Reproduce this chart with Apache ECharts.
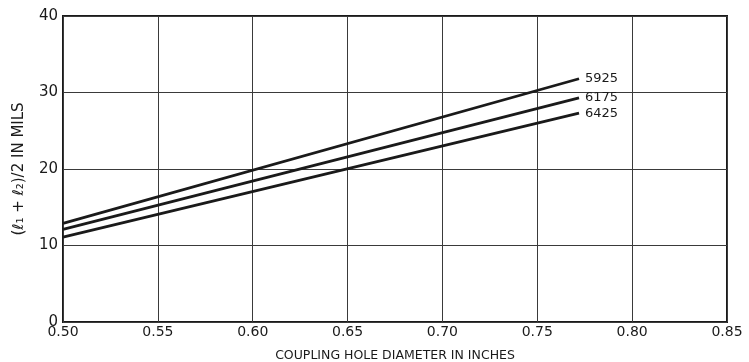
<!DOCTYPE html>
<html>
<head>
<meta charset="utf-8">
<script src="https://cdn.jsdelivr.net/npm/echarts@6/dist/echarts.min.js"></script>
<style>
  html, body { margin: 0; padding: 0; background: #fff; }
  #chart { width: 749px; height: 362px; }
</style>
</head>
<body>
<div id="chart"></div>
<script>
    "use strict";

    /*----data----*/
    var seriesNames = ['5925', '6175', '6425'];
    var diameters = [0.50, 0.772];
    var values5925 = [12.9, 31.8];
    var values6175 = [12.1, 29.3];
    var values6425 = [11.1, 27.3];
    var xTicks = [0.50, 0.55, 0.60, 0.65, 0.70, 0.75, 0.80, 0.85];
    var yTicks = [0, 10, 20, 30, 40];

    var allValues = [values5925, values6175, values6425];
    var ink = '#1a1a1a';
    var font = 'DejaVu Sans';

    var chartSeries = seriesNames.map(function (name, i) {
        return {
            name: name,
            type: 'line',
            symbol: 'none',
            silent: true,
            data: diameters.map(function (d, j) { return [d, allValues[i][j]]; }),
            lineStyle: { color: ink, width: 2.8 },
            endLabel: {
                show: true,
                formatter: '{a}',
                color: ink,
                fontFamily: font,
                fontSize: 13,
                distance: 6
            }
        };
    });

    var option = {
        animation: false,
        grid: {
            top: 16,
            right: 22,
            bottom: 40,
            left: 63,
            outerBoundsMode: 'none',
            containLabel: false,
            show: true,
            borderColor: ink,
            borderWidth: 2
        },
        xAxis: {
            type: 'value',
            min: 0.50,
            max: 0.85,
            interval: 0.05,
            name: 'COUPLING HOLE DIAMETER IN INCHES',
            nameLocation: 'middle',
            nameGap: 27,
            nameTextStyle: { color: ink, fontFamily: font, fontSize: 12.5 },
            axisLine: { show: false },
            axisTick: { show: false },
            axisLabel: {
                color: ink,
                fontFamily: font,
                fontSize: 14,
                margin: 3,
                formatter: function (v) {
                    var hit = xTicks.filter(function (t) { return Math.abs(t - v) < 1e-6; });
                    return hit.length ? hit[0].toFixed(2) : '';
                }
            },
            splitLine: { show: true, lineStyle: { color: '#3a3a3a', width: 1 } }
        },
        yAxis: {
            type: 'value',
            min: yTicks[0],
            max: yTicks[yTicks.length - 1],
            interval: 10,
            name: '(\u2113\u2081 + \u2113\u2082)/2 IN MILS',
            nameLocation: 'middle',
            nameGap: 36,
            nameTextStyle: { color: ink, fontFamily: font, fontSize: 15 },
            axisLine: { show: false },
            axisTick: { show: false },
            axisLabel: {
                color: ink,
                fontFamily: font,
                fontSize: 15,
                margin: 5
            },
            splitLine: { show: true, lineStyle: { color: '#3a3a3a', width: 1 } }
        },
        series: chartSeries
    };

    var chart = echarts.init(document.getElementById('chart'));
    chart.setOption(option);
</script>
</body>
</html>
